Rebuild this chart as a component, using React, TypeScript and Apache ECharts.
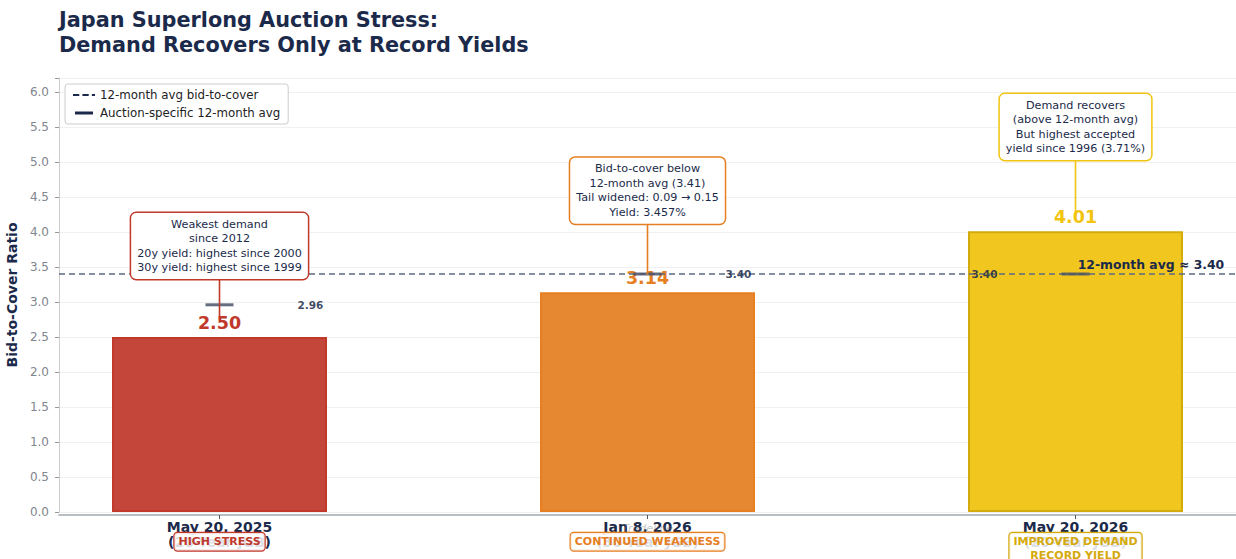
import React, { useEffect, useRef } from 'react';
import * as echarts from 'echarts';

const categories = ['May 20, 2025', 'Jan 8, 2026', 'May 20, 2026'];
const subLabels = ['(20-Year JGB)', '(30-Year JGB)', '(20-Year JGB)'];
const bidToCover = [2.5, 3.14, 4.01];
const auctionAvg = [2.96, 3.4, 3.4];
const overallAvg = 3.4;
const badges = ['HIGH STRESS', 'CONTINUED WEAKNESS', 'IMPROVED DEMAND\nRECORD YIELD'];
const notes = [
  'Weakest demand\nsince 2012\n20y yield: highest since 2000\n30y yield: highest since 1999',
  'Bid-to-cover below\n12-month avg (3.41)\nTail widened: 0.09 \u2192 0.15\nYield: 3.457%',
  'Demand recovers\n(above 12-month avg)\nBut highest accepted\nyield since 1996 (3.71%)',
];
const noteBoxY = [3.8, 4.59, 5.5];
const noteTargetY = [2.75, 3.39, 4.26];
const yTicks = [0, 0.5, 1, 1.5, 2, 2.5, 3, 3.5, 4, 4.5, 5, 5.5, 6];

const barColors = ['#c4463b', '#e68732', '#f1c61f'];
const borderColors = ['#c0392b', '#e67e22', '#d4ab0c'];
const accentColors = ['#c0392b', '#e67e22', '#f1c40f'];
const badgeColors = ['#c0392b', '#e67e22', '#d4a90a'];

export default function App() {
  const ref = useRef<HTMLDivElement>(null);
  useEffect(() => {
    const chart = echarts.init(ref.current!, null, { renderer: 'svg' });
    const FONT = '"DejaVu Sans", sans-serif';
    const NAVY = '#1b2a4a';
    const xMin = -0.375;
    const xMax = 2.375;
    chart.setOption({
      animation: false,
      backgroundColor: '#ffffff',
      textStyle: { fontFamily: FONT },
      title: {
        text: 'Japan Superlong Auction Stress:\nDemand Recovers Only at Record Yields',
        left: 59,
        top: 7,
        padding: 0,
        textStyle: { fontFamily: FONT, fontSize: 20.8, fontWeight: 'bold', color: NAVY, lineHeight: 25 },
      },
      legend: {
        orient: 'vertical',
        left: 65,
        top: 84,
        padding: [4, 8],
        itemGap: 4,
        itemWidth: 22,
        itemHeight: 3,
        backgroundColor: '#ffffff',
        borderColor: '#cccccc',
        borderWidth: 1,
        borderRadius: 3,
        textStyle: { fontFamily: FONT, fontSize: 11.8, color: '#222222', lineHeight: 14 },
        data: [
          {
            name: '12-month avg bid-to-cover',
            icon: 'path://M0,0H6V2H0Z M9,0H15V2H9Z M18,0H21V2H18Z',
            itemStyle: { color: '#1b2a4a' },
          },
          { name: 'Auction-specific 12-month avg', icon: 'path://M2,0H20V3H2Z', itemStyle: { color: '#1b2a4a', opacity: 1 } },
        ],
      },
      grid: { left: 59, right: 0, top: 78, bottom: 47, containLabel: false, outerBoundsMode: 'none' },
      xAxis: {
        type: 'value',
        min: xMin,
        max: xMax,
        offset: 3,
        splitLine: { show: false },
        axisLine: { show: true, onZero: false, lineStyle: { color: '#b8bfc5', width: 2 } },
        axisTick: { show: true, length: 4, lineStyle: { color: '#555' }, customValues: [0, 1, 2] },
        axisLabel: {
          customValues: [0, 1, 2],
          margin: 4,
          formatter: (v: number) => {
            const i = Math.round(v);
            return `{d|${categories[i]}}\n{s|${subLabels[i]}}`;
          },
          rich: {
            d: { fontFamily: FONT, fontSize: 14, fontWeight: 'bold', color: NAVY, lineHeight: 15 },
            s: { fontFamily: FONT, fontSize: 14, fontWeight: 'bold', color: NAVY, lineHeight: 15 },
          },
        },
      },
      yAxis: {
        type: 'value',
        min: 0,
        max: 6.2,
        interval: 0.5,
        name: 'Bid-to-Cover Ratio',
        nameLocation: 'middle',
        nameGap: 36,
        nameTextStyle: { fontFamily: FONT, fontSize: 14, fontWeight: 'bold', color: NAVY },
        axisLine: { show: true, onZero: false, lineStyle: { color: '#cccccc', width: 1 } },
        axisTick: { show: true, length: 4, lineStyle: { color: '#999' } },
        axisLabel: {
          fontFamily: FONT,
          fontSize: 12,
          color: '#7f868e',
          margin: 10,
          formatter: (v: number) => (yTicks.some((t) => Math.abs(t - v) < 1e-6) ? v.toFixed(1) : ''),
        },
        splitLine: { show: true, lineStyle: { color: '#f0f0f0', width: 1 } },
      },
      series: [
        {
          type: 'bar',
          name: 'Bid-to-cover',
          barWidth: 215,
          z: 2,
          data: bidToCover.map((v, i) => ({
            value: [i, v],
            itemStyle: { color: barColors[i], borderColor: borderColors[i], borderWidth: 2 },
            label: { color: accentColors[i] },
          })),
          label: {
            show: true,
            position: 'top',
            distance: 5,
            fontFamily: FONT,
            fontSize: 17.5,
            fontWeight: 'bold',
            formatter: (p: any) => p.value[1].toFixed(2),
          },
        },
        {
          type: 'line',
          name: '12-month avg bid-to-cover',
          z: 3,
          symbol: 'none',
          data: [
            [xMin, overallAvg],
            [xMax, overallAvg],
          ],
          lineStyle: { color: '#5b6b84', width: 1.5, type: [6, 4] },
          itemStyle: { color: '#1b2a4a' },
        },
        {
          type: 'scatter',
          name: 'Auction-specific 12-month avg',
          z: 4,
          symbol: 'rect',
          symbolSize: [28, 3],
          itemStyle: { color: '#4a5568', opacity: 0.85 },
          data: auctionAvg.map((v, i) => ({
            value: [i, v],
            label: { position: i === 2 ? 'left' : 'right' },
          })),
          label: {
            show: true,
            distance: 64,
            fontFamily: FONT,
            fontSize: 10.5,
            fontWeight: 'bold',
            color: NAVY,
            formatter: (p: any) => p.value[1].toFixed(2),
          },
        },
      ],
    });

    const px = (x: number, y: number) => chart.convertToPixel({ gridIndex: 0 }, [x, y]) as number[];
    const graphics: any[] = [];
    notes.forEach((t, i) => {
      const b = px(i, noteBoxY[i]);
      const tg = px(i, noteTargetY[i]);
      graphics.push({
        type: 'line',
        z: 20,
        shape: { x1: b[0], y1: b[1], x2: tg[0], y2: tg[1] },
        style: { stroke: accentColors[i], lineWidth: 1.6 },
      });
      graphics.push({
        type: 'text',
        z: 21,
        x: b[0],
        y: b[1],
        style: {
          text: t,
          align: 'center',
          verticalAlign: 'middle',
          fontFamily: FONT,
          fontSize: 11.2,
          lineHeight: 14.5,
          fill: NAVY,
          backgroundColor: '#ffffff',
          borderColor: accentColors[i],
          borderWidth: 1.5,
          borderRadius: 5,
          padding: [4, 6],
        },
      });
    });
    const y0 = px(0, 0)[1];
    badges.forEach((t, i) => {
      const p = px(i, 0);
      graphics.push({
        type: 'text',
        z: 22,
        x: p[0],
        y: y0 + 21,
        style: {
          text: t,
          align: 'center',
          verticalAlign: 'top',
          fontFamily: FONT,
          fontSize: 11,
          fontWeight: 'bold',
          lineHeight: 13.5,
          fill: badgeColors[i],
          backgroundColor: 'rgba(255,255,255,0.85)',
          borderColor: badgeColors[i],
          borderWidth: 1.2,
          borderRadius: 3,
          padding: [2, 4],
        },
      });
    });
    const wm = px(1, 0);
    graphics.push({
      type: 'text',
      z: 23,
      x: wm[0],
      y: y0 + 16,
      style: {
        text: 'Tradeline',
        align: 'center',
        verticalAlign: 'middle',
        fontFamily: FONT,
        fontSize: 11,
        fontStyle: 'italic',
        fill: 'rgba(120,120,120,0.45)',
      },
    });
    const avgLbl = px(2.005, overallAvg + 0.14);
    graphics.push({
      type: 'text',
      z: 23,
      x: avgLbl[0],
      y: avgLbl[1],
      style: {
        text: '12-month avg \u2248 3.40',
        align: 'left',
        verticalAlign: 'middle',
        fontFamily: FONT,
        fontSize: 12.4,
        fontWeight: 'bold',
        fill: NAVY,
      },
    });
    chart.setOption({ graphic: graphics });
    return () => chart.dispose();
  }, []);
  return <div ref={ref} style={{ position: 'fixed', left: 0, top: 0, width: 1236, height: 559 }} />;
}
